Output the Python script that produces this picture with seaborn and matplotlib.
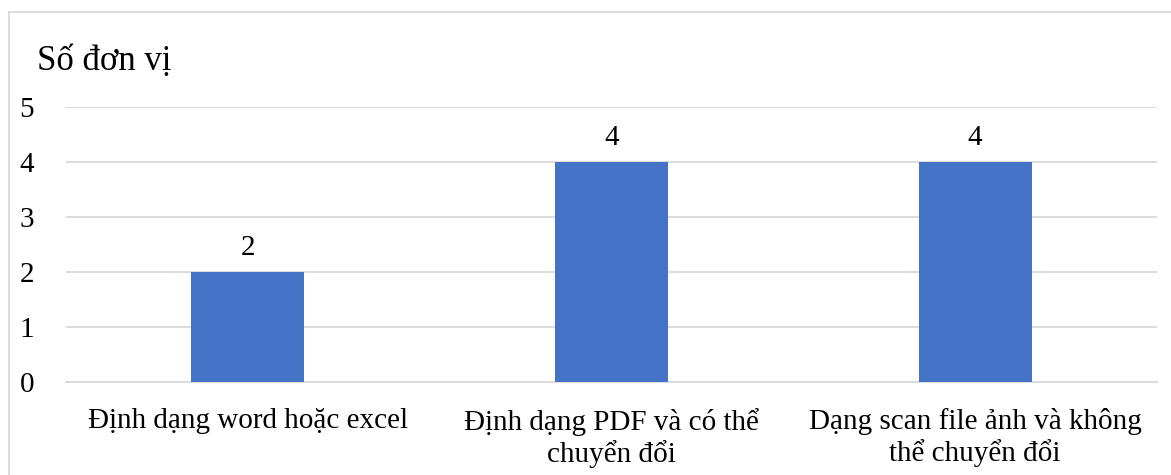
import matplotlib
matplotlib.use("Agg")
import matplotlib.pyplot as plt
import seaborn as sns
import pandas as pd
from matplotlib.patches import Rectangle

categories = [
    "Định dạng word hoặc excel",
    "Định dạng PDF và có thể\nchuyển đổi",
    "Dạng scan file ảnh và không\nthể chuyển đổi",
]
values = [2, 4, 4]
y_ticks = [0, 1, 2, 3, 4, 5]
y_title = "Số đơn vị"

sns.set_theme(style="white")
plt.rcParams["font.family"] = ["Liberation Serif", "DejaVu Serif"]
plt.rcParams["text.color"] = "black"

df = pd.DataFrame({"cat": categories, "val": values})

fig = plt.figure(figsize=(11.71, 4.75), dpi=100)
ax = fig.add_axes([66 / 1171, 1 - 382 / 475, (1157 - 66) / 1171, (382 - 107) / 475])

sns.barplot(data=df, x="cat", y="val", color="#4472C4", saturation=1,
            width=0.31, ax=ax, zorder=3, edgecolor="#4472C4", linewidth=0)

ax.set_ylim(0, 5)
ax.set_xlim(-0.5, len(categories) - 0.5)
ax.set_yticks(y_ticks)
ax.set_yticklabels([str(t) for t in y_ticks])
ax.yaxis.grid(True, color="#D9D9D9", linewidth=1.3, zorder=0)
ax.set_axisbelow(True)
for s in ["top", "right", "left"]:
    ax.spines[s].set_visible(False)
ax.spines["bottom"].set_color("#D9D9D9")
ax.spines["bottom"].set_linewidth(1.3)
ax.tick_params(axis="y", length=0, pad=23, labelsize=21, labelcolor="black")
ax.tick_params(axis="x", length=0, pad=19, labelsize=21, labelcolor="black")
for lbl in ax.get_xticklabels():
    lbl.set_linespacing(1.15)
ax.set_xlabel("")
ax.set_ylabel("")

for container in ax.containers:
    ax.bar_label(container, labels=[str(v) for v in values], padding=8,
                 fontsize=21, color="black")

fig.text(37 / 1171, 1 - 62 / 475, y_title, fontsize=25, ha="left", va="center",
         color="black")

# light frame around the chart area
fig.patches.append(Rectangle((9 / 1171, -0.1), 1.2, 0.1 + (1 - 12 / 475),
                             transform=fig.transFigure, fill=False,
                             edgecolor="#D9D9D9", linewidth=1.3))

fig.savefig("out.png", dpi=100, facecolor="white")
